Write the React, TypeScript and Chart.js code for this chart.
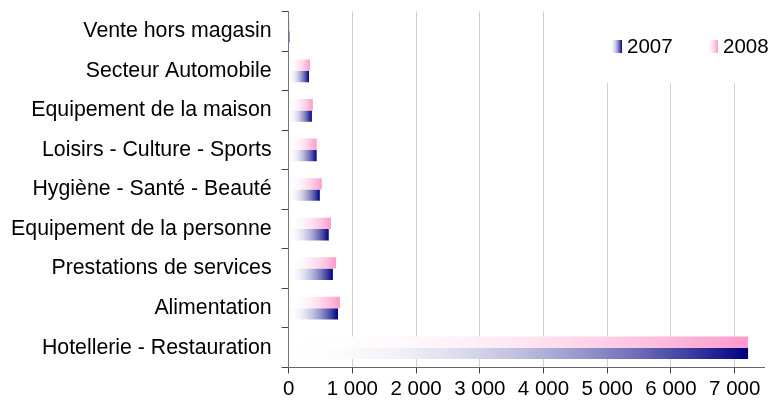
import React, { useEffect, useRef } from 'react';
import { Chart, registerables } from 'chart.js';

Chart.register(...registerables);

const categories = [
  'Vente hors magasin',
  'Secteur Automobile',
  'Equipement de la maison',
  'Loisirs - Culture - Sports',
  'Hygiène - Santé - Beauté',
  'Equipement de la personne',
  'Prestations de services',
  'Alimentation',
  'Hotellerie - Restauration',
];
const values2007 = [15, 320, 365, 440, 490, 630, 695, 775, 7210];
const values2008 = [20, 335, 380, 440, 520, 665, 745, 805, 7210];
const seriesNames = ['2007', '2008'];
const seriesColors = ['#000080', '#FF99CC'];
const xTickValues = [0, 1000, 2000, 3000, 4000, 5000, 6000, 7000];
const xMax = 7460;

const FONT = "'Liberation Sans', Arial, sans-serif";

function fmt(v: number): string {
  return String(Math.round(v)).replace(/\B(?=(\d{3})+(?!\d))/g, ' ');
}

function mix(hex: string, f: number): string {
  const r = parseInt(hex.slice(1, 3), 16);
  const g = parseInt(hex.slice(3, 5), 16);
  const b = parseInt(hex.slice(5, 7), 16);
  const m = (c: number) => Math.round(255 + (c - 255) * f);
  return `rgb(${m(r)},${m(g)},${m(b)})`;
}

function addStops(g: CanvasGradient, color: string) {
  const n = 8;
  for (let i = 0; i <= n; i++) {
    const t = i / n;
    g.addColorStop(t, mix(color, t * t));
  }
}

function gradientFill(color: string) {
  return (ctx: any) => {
    const chart = ctx.chart;
    const xs = chart.scales && chart.scales.x;
    if (!chart.chartArea || !xs || ctx.raw === undefined || ctx.raw === null) return color;
    const x0 = xs.getPixelForValue(0);
    const x1 = xs.getPixelForValue(ctx.raw);
    if (!isFinite(x0) || !isFinite(x1) || Math.abs(x1 - x0) < 0.5) return color;
    const g = chart.ctx.createLinearGradient(x0, 0, x1, 0);
    addStops(g, color);
    return g;
  };
}

const legendPlugin = {
  id: 'customLegend',
  afterDraw(chart: any) {
    const c = chart.ctx;
    c.save();
    c.fillStyle = '#ffffff';
    c.fillRect(598, 11, 173, 72);
    const items = [
      { name: seriesNames[0], color: seriesColors[0], x: 610 },
      { name: seriesNames[1], color: seriesColors[1], x: 706 },
    ];
    const boxW = 12;
    const boxY = 40;
    const boxH = 13;
    items.forEach((it) => {
      const g = c.createLinearGradient(it.x, 0, it.x + boxW, 0);
      addStops(g, it.color);
      c.fillStyle = g;
      c.fillRect(it.x, boxY, boxW, boxH);
      c.fillStyle = '#000000';
      c.font = `20.5px ${FONT}`;
      c.textBaseline = 'middle';
      c.textAlign = 'left';
      c.fillText(it.name, it.x + 17, boxY + boxH / 2 + 0.5);
    });
    c.restore();
  },
};

export default function App() {
  const ref = useRef<HTMLCanvasElement | null>(null);

  useEffect(() => {
    document.body.style.margin = '0';
    const canvas = ref.current;
    if (!canvas) return;
    const chart = new Chart(canvas, {
      type: 'bar',
      data: {
        labels: categories,
        datasets: [
          {
            label: seriesNames[1],
            data: values2008,
            backgroundColor: gradientFill(seriesColors[1]),
            borderWidth: 0,
            barPercentage: 1,
            categoryPercentage: 0.573,
          },
          {
            label: seriesNames[0],
            data: values2007,
            backgroundColor: gradientFill(seriesColors[0]),
            borderWidth: 0,
            barPercentage: 1,
            categoryPercentage: 0.573,
          },
        ],
      },
      options: {
        indexAxis: 'y',
        responsive: false,
        animation: false,
        layout: { padding: { left: 0, right: 7, top: 11.5, bottom: 0 } },
        plugins: {
          legend: { display: false },
          tooltip: { enabled: false },
        },
        scales: {
          x: {
            type: 'linear',
            min: 0,
            max: xMax,
            afterBuildTicks: (s: any) => {
              s.ticks = xTickValues.map((v) => ({ value: v }));
            },
            afterFit: (s: any) => {
              s.height = 37.5;
              s.paddingLeft = 0;
              s.paddingRight = 0;
            },
            ticks: {
              color: '#000000',
              font: { family: FONT, size: 20.5 },
              padding: 4,
              maxRotation: 0,
              autoSkip: false,
              callback: (v: any) => fmt(Number(v)),
            },
            grid: {
              color: '#d0d0d0',
              tickColor: '#444444',
              tickLength: 6,
              lineWidth: 1,
            },
            border: { color: '#666666', width: 1 },
          },
          y: {
            type: 'category',
            offset: true,
            afterFit: (s: any) => {
              s.width = 288.6;
              s.paddingTop = 0;
              s.paddingBottom = 0;
            },
            ticks: {
              color: '#000000',
              font: { family: FONT, size: 21.3 },
              padding: 10,
              autoSkip: false,
            },
            grid: {
              offset: true,
              drawOnChartArea: false,
              drawTicks: true,
              tickLength: 7,
              color: '#444444',
            },
            border: { color: '#777777', width: 1 },
          },
        },
      },
      plugins: [legendPlugin],
    });
    return () => chart.destroy();
  }, []);

  return (
    <div style={{ position: 'absolute', left: 0, top: 0, width: 771, height: 405, background: '#ffffff' }}>
      <canvas ref={ref} width={771} height={405} style={{ display: 'block' }} />
    </div>
  );
}
